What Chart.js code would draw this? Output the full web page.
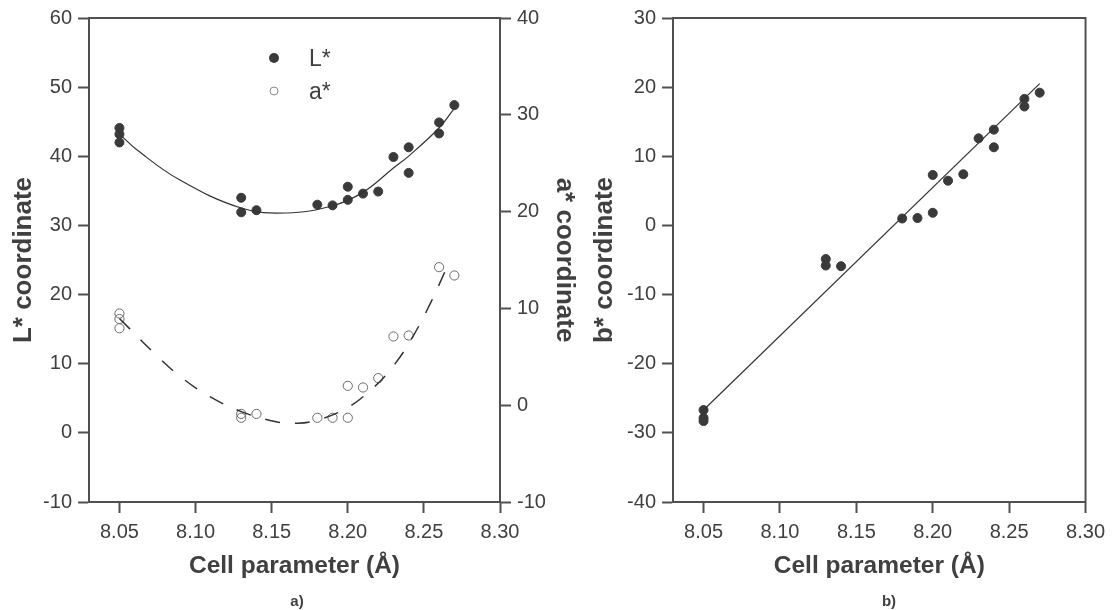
<!DOCTYPE html>
<html lang="en">
<head>
<meta charset="UTF-8">
<title>Cell parameter vs colour coordinates</title>
<script src="https://cdn.jsdelivr.net/npm/chart.js"></script>
<style>
  body { margin: 0; background: #fff; font-family: 'Liberation Sans', Arial, sans-serif; color: #404040; }
  #wrap { position: relative; width: 1112px; height: 610px; overflow: hidden; }
  canvas { position: absolute; top: 0; }
  #leftCanvas { left: 0; }
  #rightCanvas { left: 585px; }
  .tag { position: absolute; font-weight: bold; font-size: 15px; transform: translate(-50%, -50%); }
  .key { position: absolute; font-size: 23px; line-height: 1; transform: translateY(-50%); }
  .dot { position: absolute; border-radius: 50%; transform: translate(-50%, -50%); box-sizing: border-box; }
</style>
</head>
<body>
<div id="wrap">
  <canvas id="leftCanvas" width="585" height="610"></canvas>
  <canvas id="rightCanvas" width="527" height="610"></canvas>

  <!-- legend of the left plot -->
  <div class="dot" style="left:274px;top:58px;width:10px;height:10px;background:#3a3a3a"></div>
  <div class="key" style="left:309px;top:58px">L*</div>
  <div class="dot" style="left:274px;top:91px;width:9px;height:9px;border:1px solid #8a8a8a"></div>
  <div class="key" style="left:309px;top:91px">a*</div>

  <div class="tag" style="left:297px;top:600px">a)</div>
  <div class="tag" style="left:889px;top:600px">b)</div>
</div>

<script>
  // measured samples
  const cellL = [8.05, 8.05, 8.05, 8.13, 8.13, 8.14, 8.18, 8.19, 8.20, 8.20, 8.21, 8.22, 8.23, 8.24, 8.24, 8.26, 8.26, 8.27];
  const lStar = [44.1, 43.2, 42.0, 34.0, 31.9, 32.2, 33.0, 32.9, 35.6, 33.7, 34.6, 34.9, 39.9, 41.3, 37.6, 44.9, 43.3, 47.4];
  const bStar = [-26.7, -27.85, -28.3, -4.86, -5.8, -5.9, 1.0, 1.07, 7.3, 1.83, 6.47, 7.4, 12.6, 13.85, 11.3, 18.3, 17.2, 19.2];

  const cellA = [8.05, 8.05, 8.05, 8.13, 8.13, 8.14, 8.18, 8.19, 8.20, 8.20, 8.21, 8.22, 8.23, 8.24, 8.26, 8.27];
  const aStar = [9.47, 8.9, 7.95, -0.9, -1.3, -0.9, -1.3, -1.3, -1.3, 2.0, 1.83, 2.8, 7.1, 7.2, 14.26, 13.4];

  // fitted curves
  const lFitX = [8.0516, 8.0614, 8.0886, 8.1299, 8.1595, 8.1901, 8.2099, 8.2300, 8.2398, 8.2599, 8.2701];
  const lFitY = [42.88, 40.95, 36.71, 32.52, 31.8, 32.85, 34.78, 38.3, 39.99, 44.09, 46.98];
  const aFitX = [8.05, 8.074, 8.091, 8.110, 8.1305, 8.153, 8.1645, 8.1755, 8.197, 8.215, 8.231, 8.2435, 8.2545, 8.264];
  const aFitY = [8.96, 5.2, 2.83, 0.83, -0.69, -1.72, -1.86, -1.72, -0.5, 1.55, 4.27, 7.3, 10.6, 13.85];
  const bFitX = [8.05, 8.27];
  const bFitY = [-26.7, 20.5];

  // ticks
  const cellTicks = [8.05, 8.10, 8.15, 8.20, 8.25, 8.30];
  const lTicks = [-10, 0, 10, 20, 30, 40, 50, 60];
  const aTicks = [-10, 0, 10, 20, 30, 40];
  const bTicks = [-40, -30, -20, -10, 0, 10, 20, 30];

  const ink = '#505050';
  const textInk = '#404040';
  const family = "'Liberation Sans', Arial, sans-serif";

  const pairs = (xs, ys) => xs.map((x, i) => ({ x: x, y: ys[i] }));

  function axis(o) {
    return {
      type: 'linear',
      position: o.position,
      min: o.min,
      max: o.max,
      afterBuildTicks: s => { s.ticks = o.ticks.map(v => ({ value: v })); },
      afterFit: s => {
        if (o.position === 'bottom') s.height = o.size;
        else s.width = o.size;
      },
      border: { display: true, color: ink, width: 2 },
      grid: { drawOnChartArea: false, drawTicks: true, tickLength: 11, tickWidth: 2, tickColor: ink },
      ticks: { color: textInk, font: { family: family, size: 20 }, padding: o.pad, callback: o.fmt },
      title: {
        display: true, text: o.title, color: textInk,
        font: { family: family, size: o.titleSize, weight: 'bold' },
        padding: { top: o.titlePad, bottom: o.titlePad }
      }
    };
  }

  // top / right frame of the plot box
  const framePlugin = {
    id: 'frame',
    afterDraw(chart) {
      const a = chart.chartArea, ctx = chart.ctx;
      ctx.save();
      ctx.strokeStyle = ink;
      ctx.lineWidth = 2;
      ctx.strokeRect(a.left, a.top, a.right - a.left, a.bottom - a.top);
      ctx.restore();
    }
  };

  const common = {
    responsive: false,
    animation: false,
    devicePixelRatio: 1,
    plugins: { legend: { display: false }, tooltip: { enabled: false } }
  };

  const xFmt = v => Number(v).toFixed(2);
  const yFmt = v => String(v);

  new Chart(document.getElementById('leftCanvas'), {
    type: 'scatter',
    data: {
      datasets: [
        { label: 'L* fit', data: pairs(lFitX, lFitY), yAxisID: 'y', showLine: true, tension: 0.4,
          borderColor: '#333', borderWidth: 1.2, pointRadius: 0 },
        { label: 'a* fit', data: pairs(aFitX, aFitY), yAxisID: 'yA', showLine: true, tension: 0.4,
          borderColor: '#333', borderWidth: 1.5, borderDash: [15, 15], pointRadius: 0 },
        { label: 'L*', data: pairs(cellL, lStar), yAxisID: 'y',
          backgroundColor: '#3a3a3a', borderColor: '#3a3a3a', borderWidth: 1, pointRadius: 4.5 },
        { label: 'a*', data: pairs(cellA, aStar), yAxisID: 'yA',
          backgroundColor: 'rgba(255,255,255,0)', borderColor: '#6a6a6a', borderWidth: 1, pointRadius: 4.6 }
      ]
    },
    options: Object.assign({}, common, {
      layout: { padding: { top: 18, left: 0, right: 0, bottom: 0 } },
      scales: {
        x: axis({ position: 'bottom', min: 8.03, max: 8.30, ticks: cellTicks, size: 108, pad: 7,
                  fmt: xFmt, title: 'Cell parameter (Å)', titleSize: 24.5, titlePad: 29 }),
        y: axis({ position: 'left', min: -10, max: 60, ticks: lTicks, size: 89, pad: 6,
                  fmt: yFmt, title: 'L* coordinate', titleSize: 26, titlePad: 8 }),
        yA: axis({ position: 'right', min: -10, max: 40, ticks: aTicks, size: 85, pad: 6,
                   fmt: yFmt, title: 'a* coordinate', titleSize: 26, titlePad: 5 })
      }
    }),
    plugins: [framePlugin]
  });

  new Chart(document.getElementById('rightCanvas'), {
    type: 'scatter',
    data: {
      datasets: [
        { label: 'b* fit', data: pairs(bFitX, bFitY), showLine: true,
          borderColor: '#333', borderWidth: 1.2, pointRadius: 0 },
        { label: 'b*', data: pairs(cellL, bStar),
          backgroundColor: '#3a3a3a', borderColor: '#3a3a3a', borderWidth: 1, pointRadius: 4.5 }
      ]
    },
    options: Object.assign({}, common, {
      layout: { padding: { top: 18, left: 0, right: 26, bottom: 0 } },
      scales: {
        x: axis({ position: 'bottom', min: 8.03, max: 8.30, ticks: cellTicks, size: 108, pad: 7,
                  fmt: xFmt, title: 'Cell parameter (Å)', titleSize: 24.5, titlePad: 29 }),
        y: axis({ position: 'left', min: -40, max: 30, ticks: bTicks, size: 88, pad: 6,
                  fmt: yFmt, title: 'b* coordinate', titleSize: 26, titlePad: 4 })
      }
    }),
    plugins: [framePlugin]
  });
</script>
</body>
</html>
